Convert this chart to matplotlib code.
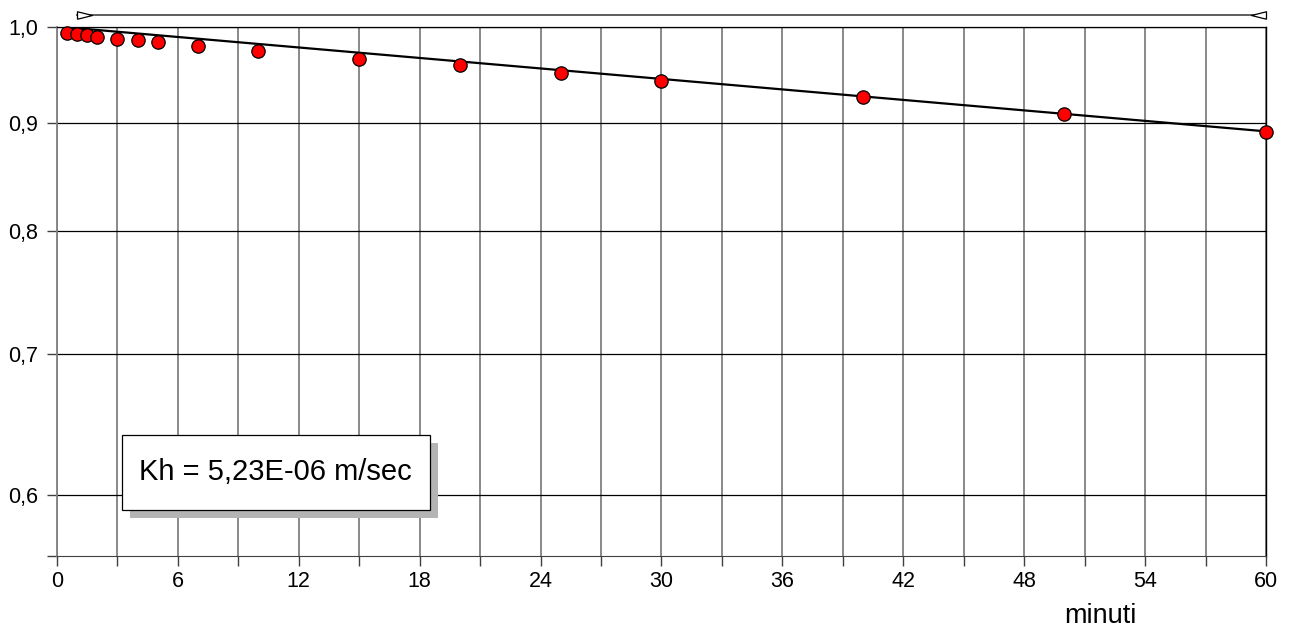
import matplotlib

matplotlib.use("Agg")
import matplotlib.pyplot as plt
import matplotlib.transforms as mtransforms
import numpy as np

plt.rcParams["font.family"] = ["Liberation Sans", "DejaVu Sans"]

# measured points: time (minutes) vs normalised head
minutes = [0.5, 1, 1.5, 2, 3, 4, 5, 7, 10, 15, 20, 25, 30, 40, 50, 60]
head = [0.9926, 0.9919, 0.9905, 0.9886, 0.9868, 0.9854, 0.9833, 0.9790,
        0.9734, 0.9649, 0.9590, 0.9510, 0.9424, 0.9264, 0.9093, 0.8917]

# fitted line (straight on log scale) and fit range markers
fit_x = [0, 60]
fit_y = [1.0, 0.892]
fit_range = [1, 60]

y_ticks = [0.6, 0.7, 0.8, 0.9, 1.0]
y_labels = ["0,6", "0,7", "0,8", "0,9", "1,0"]
y_min = 0.5615
x_major = list(range(0, 61, 6))
x_minor = list(range(3, 61, 6))

fig = plt.figure(figsize=(12.95, 6.28), dpi=100)
ax = fig.add_axes([0.0440, 0.1146, 0.9336, 0.8432])

ax.set_yscale("log")
ax.set_xlim(0, 60)
ax.set_ylim(y_min, 1.0)

ax.set_yticks([y_min] + y_ticks)
ax.set_yticklabels([""] + y_labels)
ax.yaxis.set_minor_locator(matplotlib.ticker.NullLocator())
ax.set_xticks(x_major)
ax.set_xticks(x_minor, minor=True)

ax.tick_params(axis="both", which="both", direction="out", length=7,
               width=1.0, color="#404040", labelsize=15.5)
ax.tick_params(axis="y", pad=6.5)
ax.tick_params(axis="x", pad=3.5)

for x in x_major + x_minor:
    ax.axvline(x, color="#808080", lw=1.3, zorder=1)
for y in y_ticks:
    ax.axhline(y, color="black", lw=0.9, zorder=1)

ax.spines["left"].set_color("#808080")
ax.spines["left"].set_linewidth(1.3)
ax.spines["bottom"].set_color("#404040")
ax.spines["top"].set_color("black")
ax.spines["top"].set_linewidth(0.9)
ax.spines["right"].set_color("black")
ax.spines["right"].set_linewidth(1.0)

ax.plot(fit_x, fit_y, color="black", lw=1.6, zorder=3)
ax.plot(minutes, head, "o", ms=9.6, mfc="red", mec="black", mew=0.9,
        zorder=4, clip_on=False)

# range bar above the plot
trans = mtransforms.blended_transform_factory(ax.transData, ax.transAxes)
bar_y = 1.0223
ax.plot(fit_range, [bar_y, bar_y], color="#505050", lw=1.3,
        transform=trans, clip_on=False, zorder=2)
right_tri = [(0, -0.25), (1, 0), (0, 0.25), (0, -0.25)]
left_tri = [(0, -0.25), (-1, 0), (0, 0.25), (0, -0.25)]
ax.plot([fit_range[0]], [bar_y], marker=right_tri, ms=21.6, mfc="white",
        mec="black", mew=0.9, transform=trans, clip_on=False, zorder=3)
ax.plot([fit_range[1]], [bar_y], marker=left_tri, ms=21.6, mfc="white",
        mec="black", mew=0.9, transform=trans, clip_on=False, zorder=3)

# result box with drop shadow
box_x0, box_y0 = 121.7 / 1295, 1 - 510 / 628
box_w, box_h = (430 - 121.7) / 1295, 75 / 628
shadow = plt.Rectangle((box_x0 + 8 / 1295, box_y0 - 8 / 628), box_w, box_h,
                       transform=fig.transFigure, facecolor="#b4b4b4",
                       edgecolor="none", zorder=5)
box = plt.Rectangle((box_x0, box_y0), box_w, box_h, transform=fig.transFigure,
                    facecolor="white", edgecolor="black", lw=0.9, zorder=6)
fig.patches.extend([shadow, box])
fig.text(box_x0 + box_w / 2, box_y0 + box_h / 2, "Kh = 5,23E-06 m/sec",
         ha="center", va="center", fontsize=21, zorder=7)

fig.text(1100 / 1295, 1 - 623 / 628, "minuti", ha="center", va="baseline",
         fontsize=19.5)

fig.savefig("out.png", dpi=100)
